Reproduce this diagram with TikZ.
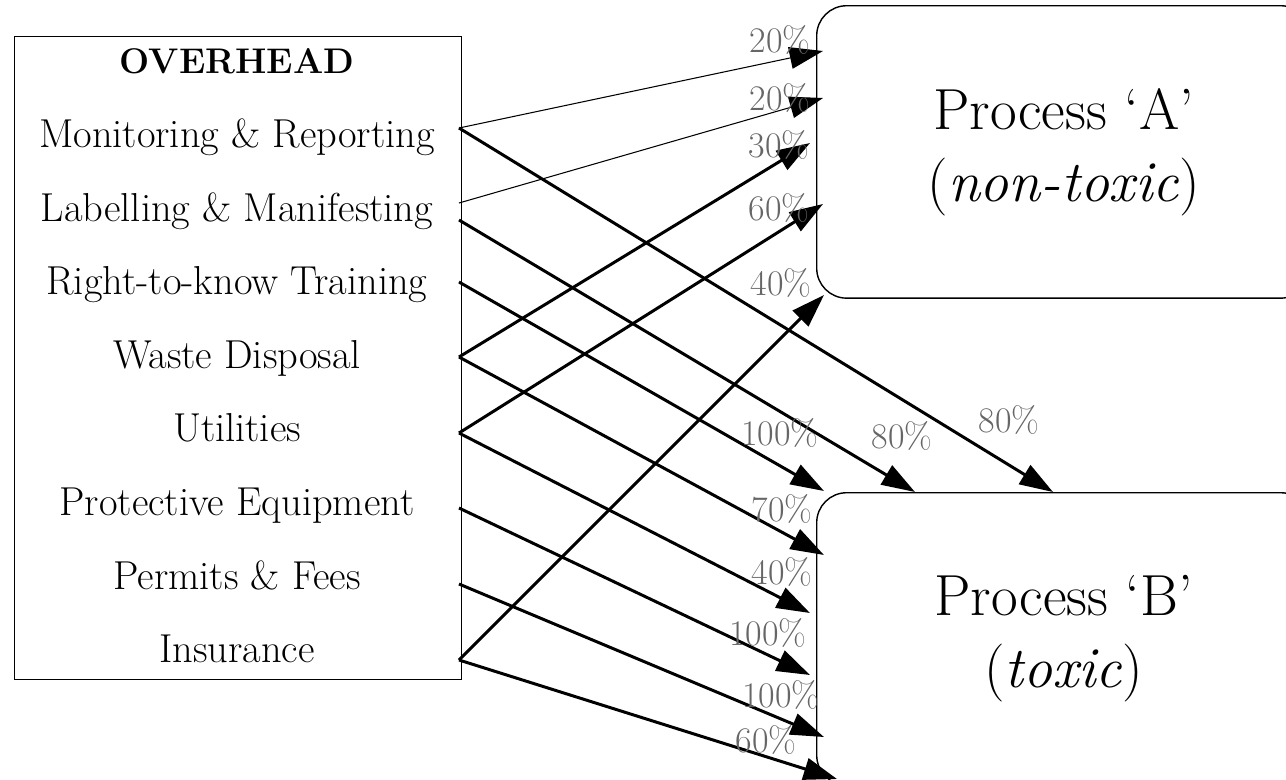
\documentclass[tikz,border=0pt]{standalone}
\usetikzlibrary{arrows.meta}
\tikzset{
  item/.style={anchor=base, inner sep=0pt, font=\fontsize{23}{27}\selectfont},
  pct/.style={inner sep=0pt, text=black!60, font=\fontsize{20.5}{24}\selectfont},
  proc/.style={
      draw,
      line width=0.8pt,
      rounded corners=0.6cm,
      minimum width=9.88cm,
      minimum height=5.85cm,
      anchor=north west,
      align=center,
      font=\fontsize{33}{41}\selectfont
  },
  share/.style={line width=1.7pt, -{Triangle[length=19pt,width=12.5pt]}},
  share-/.style={share, line width=0.6pt}
}

\begin{document}
\begin{tikzpicture}[x=0.02cm, y=-0.02cm]
    \clip (0,0) rectangle (1286,779);
    \node[draw, line width=0.8pt, minimum width=8.94cm, minimum height=12.86cm, anchor=north west] (ovh) at (14,36) {};
    \node[item, font=\fontsize{20.3}{24}\selectfont\bfseries] (head) at (237,73) {OVERHEAD};
    \node[item] (mon) at (237,147) {Monitoring \& Reporting};
    \node[item] (lab) at (237,221) {Labelling \& Manifesting};
    \node[item] (rtk) at (237,294) {Right-to-know Training};
    \node[item] (waste) at (237,368) {Waste Disposal};
    \node[item] (util) at (237,441) {Utilities};
    \node[item] (prot) at (237,515) {Protective Equipment};
    \node[item] (perm) at (237,589) {Permits \& Fees};
    \node[item] (ins) at (237,662) {Insurance};

    \node[proc] (pa) at (816,5) {Process `A'\\(\textit{non-toxic})};
    \node[proc] (pb) at (816,492) {Process `B'\\(\textit{toxic})};

    \coordinate (mon-o) at (459,128);
    \coordinate (lab-o1) at (459,203);
    \coordinate (lab-o2) at (459,220);
    \coordinate (rtk-o) at (459,282);
    \coordinate (waste-o) at (459,357);
    \coordinate (util-o) at (459,433);
    \coordinate (prot-o) at (459,508);
    \coordinate (perm-o) at (459,584);
    \coordinate (ins-o) at (459,660);

    \coordinate (a1) at (823,51);
    \coordinate (a2) at (823,98);
    \coordinate (a3) at (810,143);
    \coordinate (a4) at (823,204);
    \coordinate (a5) at (824,295);
    \coordinate (b1) at (1053,492);
    \coordinate (b2) at (915,492);
    \coordinate (b3) at (824,491);
    \coordinate (b4) at (824,555);
    \coordinate (b5) at (810,613);
    \coordinate (b6) at (810,675);
    \coordinate (b7) at (824,737);
    \coordinate (b8) at (837,779);

    \draw[share-] (mon-o) -- (a1);
    \draw[share-] (lab-o1) -- (a2);
    \draw[share] (waste-o) -- (a3);
    \draw[share] (util-o) -- (a4);
    \draw[share] (ins-o) -- (a5);
    \draw[share] (mon-o) -- (b1);
    \draw[share] (lab-o2) -- (b2);
    \draw[share] (rtk-o) -- (b3);
    \draw[share] (waste-o) -- (b4);
    \draw[share] (util-o) -- (b5);
    \draw[share] (prot-o) -- (b6);
    \draw[share] (perm-o) -- (b7);
    \draw[share] (ins-o) -- (b8);

    \node[pct] (pa1) at (780,40) {20\%};
    \node[pct] (pa2) at (780,98) {20\%};
    \node[pct] (pa3) at (779,145) {30\%};
    \node[pct] (pa4) at (779,208) {60\%};
    \node[pct] (pa5) at (781,283) {40\%};
    \node[pct] (pb1) at (1009,420) {80\%};
    \node[pct] (pb2) at (902,436) {80\%};
    \node[pct] (pb3) at (780,433) {100\%};
    \node[pct] (pb4) at (782,509) {70\%};
    \node[pct] (pb5) at (782,572) {40\%};
    \node[pct] (pb6) at (768,633) {100\%};
    \node[pct] (pb7) at (781,695) {100\%};
    \node[pct] (pb8) at (766,740) {60\%};
\end{tikzpicture}
\end{document}
